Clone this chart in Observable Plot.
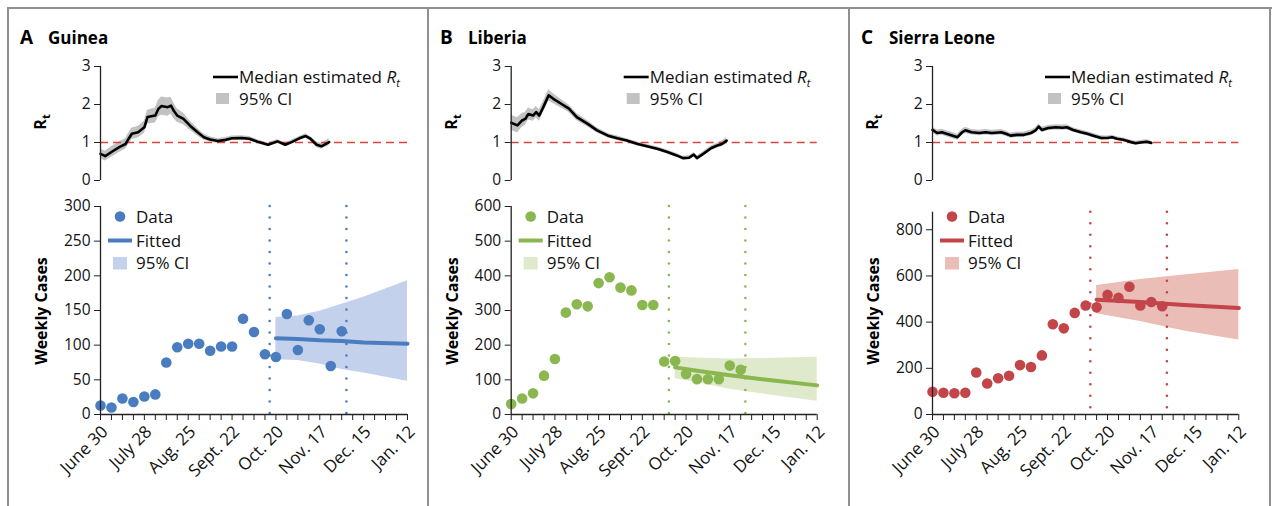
<!DOCTYPE html>
<html><head><meta charset="utf-8">
<script src="https://cdn.jsdelivr.net/npm/d3@7"></script>
<script src="https://cdn.jsdelivr.net/npm/@observablehq/plot@0.6"></script>
<style>
body{margin:0;background:#fff;}
#fig{position:relative;width:1275px;height:506px;overflow:hidden;background:#fff;font-family:"Open Sans",Lato,sans-serif;color:#111;}
#fig > svg.plot{position:absolute;overflow:visible;max-width:none !important;}
#fig svg.plot text{font-family:"Open Sans",sans-serif !important;}
#fig svg.plot g[aria-label="y-labels"] text{font-size:15.5px !important;}
#fig svg.plot g[aria-label="x-labels"] text{font-size:17px !important;}
.vline{position:absolute;top:7px;bottom:-2px;width:2px;background:#8f8f8f;}
.hline{position:absolute;top:7px;left:8px;width:1264px;height:2px;background:#8f8f8f;}
</style>
</head><body>
<div id="fig"></div>
<script>
// ---------- data ----------
const START = new Date(Date.UTC(2014, 5, 30));
const END = new Date(Date.UTC(2015, 0, 12));
const tickLabels = ["June 30", "July 28", "Aug. 25", "Sept. 22", "Oct. 20", "Nov. 17", "Dec. 15", "Jan. 12"];
const countries = ["Guinea", "Liberia", "Sierra Leone"];
const panelLetters = ["A", "B", "C"];

// Median estimated Rt (day offsets from June 30), with 95% CI half-width
const guineaRtDay = [0,3,7,12,16,18,20,24,28,30,35,37,39,43,45,47,49,53,57,62,66,70,75,80,84,90,95,101,107,113,118,122,127,131,134,138,141,146];
const guineaRt = [0.70,0.64,0.75,0.88,0.96,1.10,1.23,1.27,1.40,1.67,1.71,1.89,1.96,1.93,1.97,1.82,1.71,1.62,1.45,1.27,1.14,1.08,1.04,1.07,1.11,1.12,1.10,1.01,0.94,1.03,0.94,1.01,1.11,1.17,1.10,0.94,0.90,1.01];
const guineaRtCI = [0.13,0.13,0.14,0.14,0.14,0.15,0.15,0.15,0.16,0.18,0.20,0.22,0.24,0.24,0.22,0.20,0.18,0.15,0.12,0.10,0.08,0.07,0.06,0.06,0.06,0.06,0.06,0.05,0.05,0.05,0.05,0.05,0.05,0.06,0.06,0.07,0.08,0.09];

const liberiaRtDay = [0,4,7,9,11,14,16,18,21,24,27,32,37,42,49,55,62,68,74,81,87,94,100,106,110,114,117,119,123,128,132,135,138];
const liberiaRt = [1.52,1.45,1.58,1.62,1.75,1.71,1.80,1.71,1.97,2.24,2.15,2.02,1.89,1.67,1.49,1.32,1.18,1.11,1.05,0.96,0.90,0.83,0.75,0.66,0.59,0.60,0.68,0.59,0.70,0.85,0.92,0.96,1.05];
const liberiaRtCI = [0.20,0.20,0.18,0.17,0.16,0.15,0.15,0.15,0.15,0.15,0.13,0.11,0.10,0.09,0.08,0.07,0.06,0.06,0.05,0.05,0.05,0.05,0.05,0.05,0.05,0.05,0.05,0.05,0.05,0.06,0.06,0.07,0.08];

const sierraRtDay = [0,3,6,9,13,16,19,21,25,30,34,38,44,47,50,54,58,63,66,68,70,74,79,83,86,90,95,99,103,108,112,115,118,122,127,130,133,137,140];
const sierraRt = [1.33,1.25,1.27,1.23,1.18,1.14,1.27,1.32,1.27,1.25,1.27,1.25,1.27,1.23,1.18,1.20,1.20,1.25,1.32,1.42,1.33,1.38,1.40,1.39,1.40,1.33,1.27,1.23,1.18,1.12,1.12,1.14,1.10,1.07,1.01,0.98,1.00,1.02,0.99];
const sierraRtCI = [0.08,0.08,0.08,0.08,0.08,0.08,0.08,0.08,0.07,0.07,0.07,0.07,0.07,0.07,0.07,0.07,0.07,0.07,0.07,0.07,0.07,0.07,0.07,0.07,0.07,0.06,0.06,0.06,0.06,0.06,0.05,0.05,0.05,0.05,0.05,0.05,0.05,0.05,0.05];

// Weekly cases, one value per week starting June 30
const guineaCases = [13,10,23,18,26,29,75,97,102,102,92,98,98,138,119,87,83,145,93,136,123,70,120];
const liberiaCases = [30,46,61,112,160,294,318,312,379,396,366,358,316,316,153,154,117,102,102,102,141,129];
const sierraCases = [98,94,92,94,182,134,157,168,214,206,256,391,373,440,472,464,518,505,553,472,487,469];

// Fitted projections (week index from June 30) with 95% CI
const guineaFitWeek = [16,18,20,22,24,28];
const guineaFit = [110,109,107,106,104,102];
const guineaFitLo = [79,78,73,65,60,48];
const guineaFitHi = [140,142,149,159,169,193];

const liberiaFitWeek = [15,17,20,24,28];
const liberiaFit = [136,126,113,98,84];
const liberiaFitLo = [103,92,73,55,38];
const liberiaFitHi = [165,163,160,162,165];

const sierraFitWeek = [15,19,23,28];
const sierraFit = [497,487,474,461];
const sierraFitLo = [436,403,362,323];
const sierraFitHi = [559,585,604,628];

// dotted reference dates
const guineaCutoffs = ["2014-10-16", "2014-12-04"];
const liberiaCutoffs = ["2014-10-09", "2014-11-27"];
const sierraCutoffs = ["2014-10-09", "2014-11-27"];

const rtTicks = [0, 1, 2, 3];
const yTickSets = [[0,50,100,150,200,250,300], [0,100,200,300,400,500,600], [0,200,400,600,800]];
const yMaxes = [300, 600, 876];
const colors = ["#4a7dbf", "#8ab74f", "#c2454a"];
const ciColors = ["#c3d1ec", "#dfe9cb", "#ebbdb7"];

// ---------- layout ----------
const layout = [
  {left: 8, axis: 100, end: 407, top: 16},
  {left: 428, axis: 510.7, end: 816.7, top: 16},
  {left: 849, axis: 932, end: 1238.3, top: 21.7}
];
const PW = 421;
const FONT = "'Open Sans', Lato, sans-serif";

const day = d => d3.utcDay.offset(START, d);
const week = w => d3.utcDay.offset(START, 7 * w);
const majorDates = tickLabels.map((_, i) => week(4 * i));
const minorDates = d3.range(0, 29).map(week);

const rtSets = [[guineaRtDay, guineaRt, guineaRtCI], [liberiaRtDay, liberiaRt, liberiaRtCI], [sierraRtDay, sierraRt, sierraRtCI]];
const caseSets = [guineaCases, liberiaCases, sierraCases];
const fitSets = [[guineaFitWeek, guineaFit, guineaFitLo, guineaFitHi], [liberiaFitWeek, liberiaFit, liberiaFitLo, liberiaFitHi], [sierraFitWeek, sierraFit, sierraFitLo, sierraFitHi]];
const cutSets = [guineaCutoffs, liberiaCutoffs, sierraCutoffs];

const fig = document.getElementById("fig");

function place(svg, left, top) {
  svg.classList.add("plot");
  svg.style.left = left + "px";
  svg.style.top = top + "px";
  fig.appendChild(svg);
}

function yLabels(ticks) {
  return Plot.text(ticks, {x: START, y: d => d, text: d => String(d), textAnchor: "end", dx: -10, fontSize: 15.5, fill: "#111", ariaLabel: "y-labels"});
}

countries.forEach((name, k) => {
  const L = layout[k];
  const [rd, rv, rc] = rtSets[k];
  const rt = rd.map((d, i) => ({date: day(d), v: rv[i], lo: rv[i] - rc[i], hi: rv[i] + rc[i]}));
  const mL = L.axis - L.left, mR = L.left + PW - L.end;

  const rtPlot = Plot.plot({
    width: PW, height: 140, marginLeft: mL, marginRight: mR, marginTop: 16, marginBottom: 10,
    style: {fontFamily: FONT, fontSize: "15px", color: "#111", background: "transparent", overflow: "visible"},
    x: {type: "utc", domain: [START, END], axis: null},
    y: {domain: [0, 3], label: null},
    marks: [
      Plot.areaY(rt, {x: "date", y1: "lo", y2: "hi", fill: "#c2c2c2"}),
      Plot.ruleY([1], {x1: START, x2: END, stroke: "#d9453b", strokeWidth: 1.6, strokeDasharray: "8,5"}),
      Plot.line(rt, {x: "date", y: "v", stroke: "#000", strokeWidth: 2.6}),
      Plot.ruleX([START], {y1: 0, y2: 3, stroke: "#222", strokeWidth: 1.3}),
      Plot.axisY({ticks: rtTicks, tickSize: 6, tickFormat: () => "", label: null, stroke: "#222"}),
      yLabels(rtTicks)
    ]
  });
  place(rtPlot, L.left, 50);

  const cases = caseSets[k].map((v, i) => ({date: week(i), v}));
  const [fw, fv, flo, fhi] = fitSets[k];
  const fit = fw.map((w, i) => ({date: week(w), v: fv[i], lo: flo[i], hi: fhi[i]}));
  const cuts = cutSets[k].map(s => new Date(s + "T00:00:00Z"));

  const casePlot = Plot.plot({
    width: PW, height: 316, marginLeft: mL, marginRight: mR, marginTop: L.top, marginBottom: 92,
    style: {fontFamily: FONT, fontSize: "15px", color: "#111", background: "transparent", overflow: "visible"},
    x: {type: "utc", domain: [START, END], label: null},
    y: {domain: [0, yMaxes[k]], label: null},
    marks: [
      Plot.areaY(fit, {x: "date", y1: "lo", y2: "hi", fill: ciColors[k]}),
      Plot.ruleX(cuts, {stroke: colors[k], strokeWidth: 2.6, strokeDasharray: "0,11.5", strokeLinecap: "round"}),
      Plot.line(fit, {x: "date", y: "v", stroke: colors[k], strokeWidth: 4}),
      Plot.dot(cases, {x: "date", y: "v", r: 5.3, fill: colors[k]}),
      Plot.ruleX([START], {y1: 0, y2: yMaxes[k], stroke: "#222", strokeWidth: 1.3}),
      Plot.ruleY([0], {x1: START, x2: END, stroke: "#222", strokeWidth: 1.3}),
      Plot.axisY({ticks: yTickSets[k], tickSize: 6, tickFormat: () => "", label: null, stroke: "#222"}),
      Plot.axisX({ticks: minorDates, tickSize: 6, tickFormat: () => "", label: null, stroke: "#222"}),
      yLabels(yTickSets[k]),
      Plot.text(majorDates, {x: d => d, y: 0, text: (d, i) => tickLabels[i], rotate: -45, textAnchor: "end",
        dx: 4.5, dy: 14.5, fontSize: 17, fill: "#111", ariaLabel: "x-labels"})
    ]
  });
  place(casePlot, L.left, 190);
});

// borders
[8, 428, 849, 1270].forEach(x => {
  const d = document.createElement("div");
  d.className = "vline"; d.style.left = (x - 1) + "px"; fig.appendChild(d);
});
const h = document.createElement("div"); h.className = "hline"; fig.appendChild(h);

// ---------- overlay text & legends ----------
const ov = d3.select(fig).append("svg")
  .attr("width", 1275).attr("height", 506)
  .style("position", "absolute").style("left", 0).style("top", 0)
  .style("font-family", FONT).style("pointer-events", "none");

const LFS = 17;
countries.forEach((name, k) => {
  const L = layout[k];
  const a = L.axis;
  // panel title
  ov.append("text").attr("x", L.left + 12).attr("y", 44).attr("font-size", 19).attr("font-weight", 700).attr("fill", "#000").text(panelLetters[k]);
  ov.append("text").attr("x", L.left + 40).attr("y", 44).attr("font-size", 17).attr("font-weight", 700).attr("fill", "#000").text(name);

  // Rt axis title
  const rtT = ov.append("text").attr("transform", `translate(${a - 54},122) rotate(-90)`)
    .attr("text-anchor", "middle").attr("font-size", 16).attr("font-weight", 700).attr("fill", "#000");
  rtT.append("tspan").text("R");
  rtT.append("tspan").attr("font-size", 11).attr("dy", 4).text("t");

  // Weekly cases title
  ov.append("text").attr("transform", `translate(${a - 53},311) rotate(-90)`)
    .attr("text-anchor", "middle").attr("font-size", 16).attr("font-weight", 700).attr("fill", "#000").text("Weekly Cases");

  // Rt legend
  ov.append("line").attr("x1", a + 113).attr("x2", a + 138).attr("y1", 77).attr("y2", 77).attr("stroke", "#000").attr("stroke-width", 2.6);
  const lt = ov.append("text").attr("x", a + 139).attr("y", 83).attr("font-size", LFS).attr("fill", "#111");
  lt.append("tspan").text("Median estimated ");
  lt.append("tspan").attr("font-style", "italic").text("R");
  lt.append("tspan").attr("font-style", "italic").attr("font-size", 11).attr("dy", 4).text("t");
  ov.append("rect").attr("x", a + 116).attr("y", 93).attr("width", 13).attr("height", 11).attr("fill", "#c2c2c2");
  ov.append("text").attr("x", a + 139).attr("y", 105).attr("font-size", LFS).attr("fill", "#111").text("95% CI");

  // cases legend
  ov.append("circle").attr("cx", a + 20).attr("cy", 216.5).attr("r", 5.3).attr("fill", colors[k]);
  ov.append("text").attr("x", a + 36).attr("y", 222.5).attr("font-size", LFS).attr("fill", "#111").text("Data");
  ov.append("line").attr("x1", a + 8).attr("x2", a + 32).attr("y1", 240.5).attr("y2", 240.5).attr("stroke", colors[k]).attr("stroke-width", 4);
  ov.append("text").attr("x", a + 36).attr("y", 246.5).attr("font-size", LFS).attr("fill", "#111").text("Fitted");
  ov.append("rect").attr("x", a + 13).attr("y", 257).attr("width", 14).attr("height", 12.5).attr("fill", ciColors[k]);
  ov.append("text").attr("x", a + 36).attr("y", 269).attr("font-size", LFS).attr("fill", "#111").text("95% CI");
});
</script>
</body></html>
